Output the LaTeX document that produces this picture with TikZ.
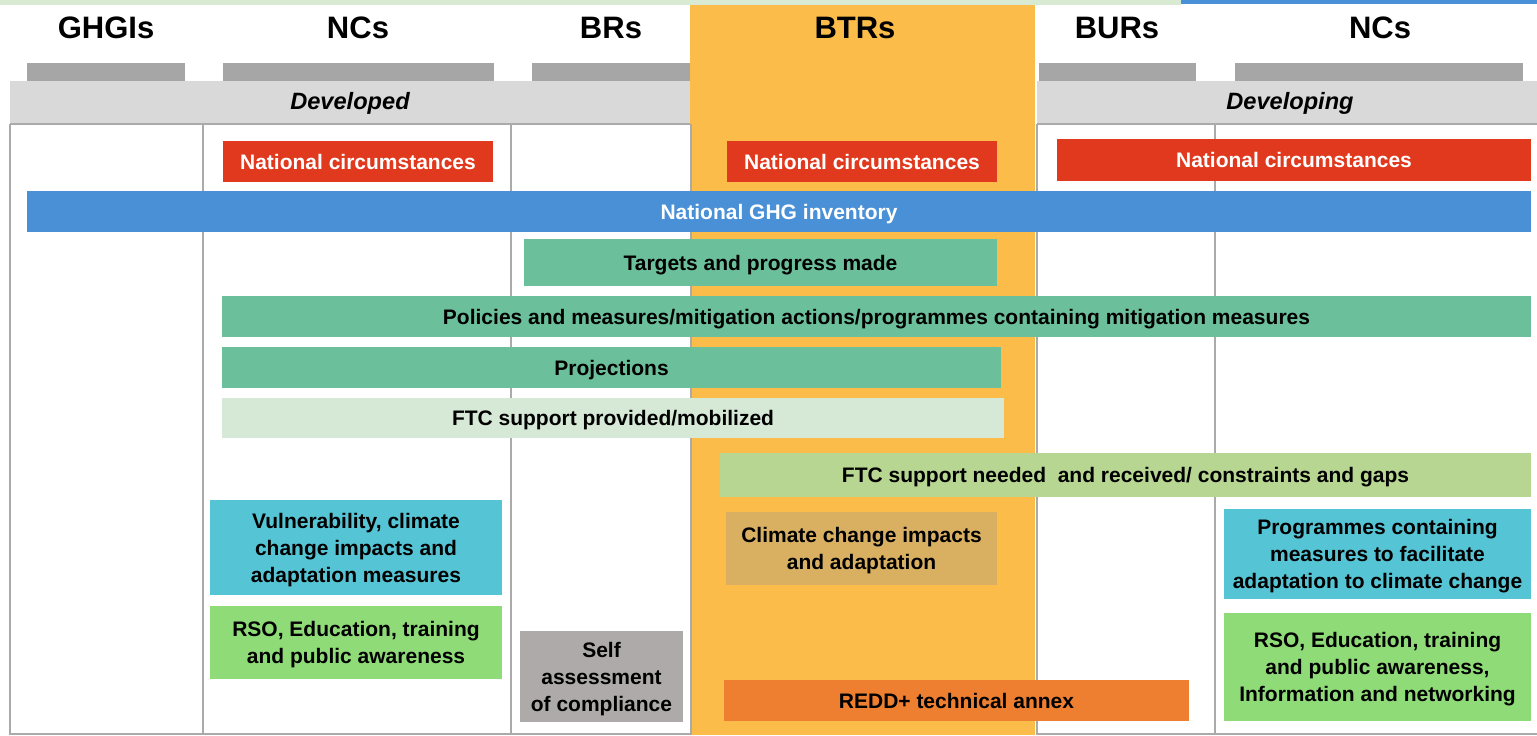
\documentclass[tikz,border=0pt]{standalone}
\usepackage{fontspec}
\setmainfont{Liberation Sans}
\usepackage{xcolor}
\usepackage{tikz}
\usetikzlibrary{positioning}

\definecolor{topgreen}{RGB}{217,234,211}
\definecolor{topblue}{RGB}{74,144,217}
\definecolor{btrorange}{RGB}{251,188,74}
\definecolor{bargray}{RGB}{166,166,166}
\definecolor{bandgray}{RGB}{217,217,217}
\definecolor{gridgray}{RGB}{170,170,170}
\definecolor{ncred}{RGB}{224,57,30}
\definecolor{ghgblue}{RGB}{74,144,214}
\definecolor{mitgreen}{RGB}{107,191,154}
\definecolor{palegreen}{RGB}{214,233,214}
\definecolor{limegreen}{RGB}{182,214,145}
\definecolor{adacyan}{RGB}{85,197,213}
\definecolor{rsogreen}{RGB}{142,219,120}
\definecolor{selfgray}{RGB}{174,170,169}
\definecolor{ccitan}{RGB}{217,176,98}
\definecolor{reddorange}{RGB}{238,127,48}

\tikzset{
  item/.style={inner sep=0pt, align=center, text=black,
    font=\bfseries\fontsize{10.5}{13.5}\selectfont},
  sz/.style 2 args={minimum width=#1*0.5pt, minimum height=#2*0.5pt},
  % caps of every line centred in the box
  lines/.style={text height=#1*13.5pt-5.9pt, text depth=0pt},
  header/.style={font=\bfseries\fontsize{15.5}{18}\selectfont},
  group/.style={font=\bfseries\itshape\fontsize{11.8}{14}\selectfont},
  grid/.style={draw=gridgray, line width=1pt}
}

\begin{document}
\begin{tikzpicture}[x=0.5pt, y=-0.5pt]
  \useasboundingbox (0,0) rectangle (1537,735);
  % top strips
  \fill[topgreen] (0,0) rectangle (1181,5);
  \fill[topblue] (1181,0) rectangle (1537,4);
  % BTR column
  \fill[btrorange] (690,5) rectangle (1035,735);

  % column headers
  \node[header] (hGHGI) at (106,28) {GHGIs};
  \node[header] (hNCdev) at (358,28) {NCs};
  \node[header] (hBR) at (611,28) {BRs};
  \node[header] (hBTR) at (855,28) {BTRs};
  \node[header] (hBUR) at (1117,28) {BURs};
  \node[header] (hNCdvg) at (1380,28) {NCs};

  % grey tabs and group bands
  \fill[bargray] (27,63) rectangle (185,81);
  \fill[bargray] (223,63) rectangle (494,81);
  \fill[bargray] (532,63) rectangle (690,81);
  \fill[bargray] (1039,63) rectangle (1196,81);
  \fill[bargray] (1235,63) rectangle (1523,81);
  \fill[bandgray] (10,81) rectangle (690,124);
  \fill[bandgray] (1037,81) rectangle (1537,124);
  \node[group] (developed) at (350,103) {Developed};
  \node[group] (developing) at (1290,103) {Developing};

  % grid
  \draw[grid] (10,124) -- (690,124);
  \draw[grid] (1037,124) -- (1537,124);
  \draw[grid] (10,734) -- (690,734);
  \draw[grid] (1037,734) -- (1537,734);
  \foreach \xl in {10,203,511,691,1037,1215}
    \draw[grid] (\xl,124) -- (\xl,735);

  % boxes
  \node[item, lines=1, sz={270}{41}, fill=ncred, text=white] (ncDev) at (358,161.5) {National circumstances};
  \node[item, lines=1, sz={270}{41}, fill=ncred, text=white] (ncBTR) at (862,161.5) {National circumstances};
  \node[item, lines=1, sz={474}{42}, fill=ncred, text=white] (ncDvg) at (1294,160) {National circumstances};
  \node[item, lines=1, sz={1504}{41}, fill=ghgblue, text=white] (ghg) at (779,211.5) {National GHG inventory};
  \node[item, lines=1, sz={473}{47}, fill=mitgreen] (targets) at (760.5,262.5) {Targets and progress made};
  \node[item, lines=1, sz={1309}{41}, fill=mitgreen] (policies) at (876.5,316.5) {Policies and measures/mitigation actions/programmes containing mitigation measures};
  \node[item, lines=1, sz={779}{41}, fill=mitgreen] (proj) at (611.5,367.5) {Projections};
  \node[item, lines=1, sz={782}{40}, fill=palegreen] (ftcProv) at (613,418) {FTC support provided/mobilized};
  \node[item, lines=1, sz={811}{44}, fill=limegreen] (ftcNeed) at (1125.5,475) {FTC support needed\ \ and received/ constraints and gaps};
  \node[item, lines=3, sz={292}{95}, fill=adacyan] (vuln) at (356,547.5) {Vulnerability, climate\\change impacts and\\adaptation measures};
  \node[item, lines=2, sz={292}{73}, fill=rsogreen] (rsoDev) at (356,642.5) {RSO, Education, training\\and public awareness};
  \node[item, lines=3, sz={163}{91}, fill=selfgray] (self) at (601.5,676.5) {Self\\assessment\\of compliance};
  \node[item, lines=2, sz={271}{73}, fill=ccitan] (cci) at (861.5,548.5) {Climate change impacts\\and adaptation};
  \node[item, lines=1, sz={465}{41}, fill=reddorange] (redd) at (956.5,700.5) {REDD+ technical annex};
  \node[item, lines=3, sz={307}{90}, fill=adacyan] (prog) at (1377.5,554) {Programmes containing\\measures to facilitate\\adaptation to climate change};
  \node[item, lines=3, sz={307}{108}, fill=rsogreen] (rsoDvg) at (1377.5,667) {RSO, Education, training\\and public awareness,\\Information and networking};
\end{tikzpicture}
\end{document}
